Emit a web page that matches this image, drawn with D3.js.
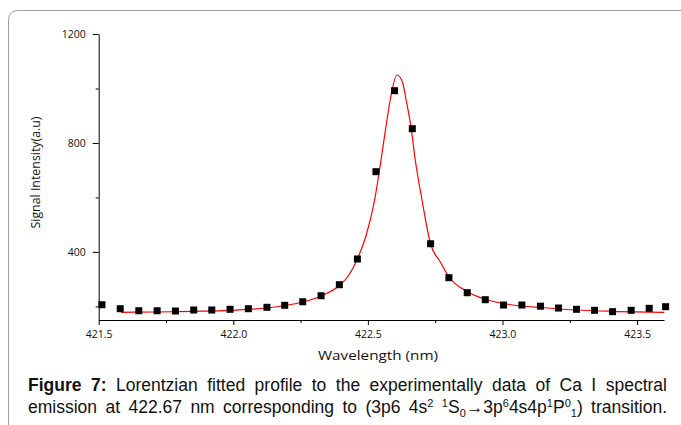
<!DOCTYPE html>
<html>
<head>
<meta charset="utf-8">
<script src="https://cdn.jsdelivr.net/npm/d3@7"></script>
<style>
  body { margin: 0; background: #fff; }
  svg { display: block; }
</style>
</head>
<body>
<div id="chart"></div>
<script>
// measured points (wavelength nm, signal a.u.)
var wavelength = [421.512, 421.580, 421.649, 421.717, 421.785, 421.853, 421.920, 421.988,
                  422.056, 422.125, 422.191, 422.258, 422.326, 422.394, 422.461, 422.530,
                  422.599, 422.665, 422.733, 422.801, 422.869, 422.936, 423.004, 423.072,
                  423.141, 423.208, 423.275, 423.342, 423.409, 423.478, 423.545, 423.606];
var signal = [206, 191.5, 184, 184, 183, 186.7, 186.7, 189.3,
              191.5, 196.6, 204, 217, 239, 279.6, 374, 694.5,
              991.8, 852.3, 430, 305.3, 250.2, 224.5, 205, 205,
              200.7, 194, 189.3, 185.6, 180.5, 185.6, 192.9, 198.8];

// Lorentzian fit line
var fitX = [421.583, 421.717, 421.854, 421.988, 422.125, 422.193, 422.258, 422.326,
            422.394, 422.427, 422.461, 422.494, 422.525, 422.546, 422.568, 422.583,
            422.608, 422.629, 422.642, 422.661, 422.676, 422.701, 422.733, 422.769,
            422.801, 422.869, 422.936, 423.004, 423.072, 423.141, 423.274, 423.408, 423.601];
var fitY = [178.3, 179.4, 181.9, 185.6, 194.1, 203.2, 216.1, 238.1,
            276.7, 311.5, 373.9, 462, 590.6, 719, 865.9, 957.7,
            1049.5, 1021.2, 957.7, 852.3, 737.4, 590.6, 429, 362.9,
            307.9, 254.6, 226, 210.6, 201.4, 195.9, 186.7, 181.9, 178.3];

var xTicks = [421.5, 422.0, 422.5, 423.0, 423.5];
var xMinor = [421.75, 422.25, 422.75, 423.25];
var yTicks = [400, 800, 1200];
var yMinor = [200, 600, 1000];

var W = 681, H = 425;
var svg = d3.select("#chart").append("svg")
  .attr("width", W)
  .attr("height", H);

// frame round the figure
svg.append("rect")
  .attr("x", 8.5).attr("y", 10.5)
  .attr("width", 700).attr("height", 450)
  .attr("rx", 9)
  .attr("fill", "none")
  .attr("stroke", "#a0a0a0")
  .attr("stroke-width", 1);

var x = d3.scaleLinear().domain([421.5, 423.6]).range([98.7, 664]);
var y = d3.scaleLinear().domain([150, 1200]).range([320, 34]);

var g = svg.append("g");

// x axis
var xAxis = g.append("g").attr("transform", "translate(0,320)");
xAxis.call(d3.axisBottom(x).tickValues(xTicks).tickFormat(d3.format(".1f")).tickSize(5).tickSizeOuter(0));
xAxis.append("g").call(d3.axisBottom(x).tickValues(xMinor).tickFormat("").tickSize(3).tickSizeOuter(0))
  .select(".domain").remove();

// y axis
var yAxis = g.append("g").attr("transform", "translate(98.7,0)");
yAxis.call(d3.axisLeft(y).tickValues(yTicks).tickFormat(d3.format("d")).tickSize(6).tickSizeOuter(0).tickPadding(7));
yAxis.append("g").call(d3.axisLeft(y).tickValues(yMinor).tickFormat("").tickSize(3).tickSizeOuter(0))
  .select(".domain").remove();

g.selectAll(".domain, .tick line").attr("stroke", "#000").attr("stroke-width", 1);
g.selectAll(".tick text")
  .attr("font-family", "'Open Sans', sans-serif")
  .attr("font-size", "10.5px")
  .attr("fill", "#111");
xAxis.selectAll(".tick text").attr("dy", "0.95em");

// axis titles
svg.append("text")
  .attr("x", 378).attr("y", 360)
  .attr("text-anchor", "middle")
  .attr("font-family", "'Open Sans', sans-serif")
  .attr("font-size", "12.5px")
  .attr("fill", "#111")
  .attr("textLength", 120)
  .attr("lengthAdjust", "spacingAndGlyphs")
  .text("Wavelength (nm)");

svg.append("text")
  .attr("transform", "translate(39.5,172.5) rotate(-90)")
  .attr("text-anchor", "middle")
  .attr("font-family", "'Open Sans', sans-serif")
  .attr("font-size", "12px")
  .attr("fill", "#111")
  .attr("textLength", 112)
  .attr("lengthAdjust", "spacingAndGlyphs")
  .text("Signal Intensity(a.u)");

// fitted curve
var fit = fitX.map(function(d, i) { return [d, fitY[i]]; });
svg.append("path")
  .datum(fit)
  .attr("d", d3.line()
    .x(function(d) { return x(d[0]); })
    .y(function(d) { return y(d[1]); })
    .curve(d3.curveMonotoneX))
  .attr("fill", "none")
  .attr("stroke", "#ff0000")
  .attr("stroke-width", 1.2);

// data squares
var s = 7;
svg.selectAll("rect.pt")
  .data(wavelength)
  .enter()
  .append("rect")
  .attr("class", "pt")
  .attr("x", function(d) { return x(d) - s / 2; })
  .attr("y", function(d, i) { return y(signal[i]) - s / 2; })
  .attr("width", s)
  .attr("height", s)
  .attr("fill", "#000");

// caption, justified between 28 and 667
function captionLine(yPos, parts) {
  var t = svg.append("text")
    .attr("x", 28).attr("y", yPos)
    .attr("font-family", "'Liberation Sans', Arial, sans-serif")
    .attr("font-size", "17.5px")
    .attr("fill", "#111");
  var shift = 0;
  var full = "";
  parts.forEach(function(p) {
    var ts = t.append("tspan").text(p.t);
    full += p.t;
    var target = 0;
    if (p.k === "sup") target = -6;
    if (p.k === "sub") target = 4;
    if (p.k === "sup" || p.k === "sub") ts.attr("font-size", "11px");
    if (p.k === "b") ts.attr("font-weight", "bold");
    if (target !== shift) { ts.attr("dy", target - shift); shift = target; }
  });
  var natural = t.node().getComputedTextLength();
  var spaces = (full.match(/ /g) || []).length;
  var extra = (667 - 28 - natural) / spaces;
  if (extra >= 0) {
    t.attr("word-spacing", extra + "px");
  } else {
    t.attr("textLength", 639).attr("lengthAdjust", "spacingAndGlyphs");
  }
}

captionLine(391, [
  {t: "Figure 7:", k: "b"},
  {t: " Lorentzian fitted profile to the experimentally data of Ca I spectral"}
]);
captionLine(413, [
  {t: "emission at 422.67 nm corresponding to (3p6 4s"},
  {t: "2", k: "sup"}, {t: " "}, {t: "1", k: "sup"}, {t: "S"}, {t: "0", k: "sub"},
  {t: "\u21923p"}, {t: "6", k: "sup"}, {t: "4s4p"}, {t: "1", k: "sup"}, {t: "P"},
  {t: "0", k: "sup"}, {t: "1", k: "sub"}, {t: ") transition."}
]);
</script>
</body>
</html>
